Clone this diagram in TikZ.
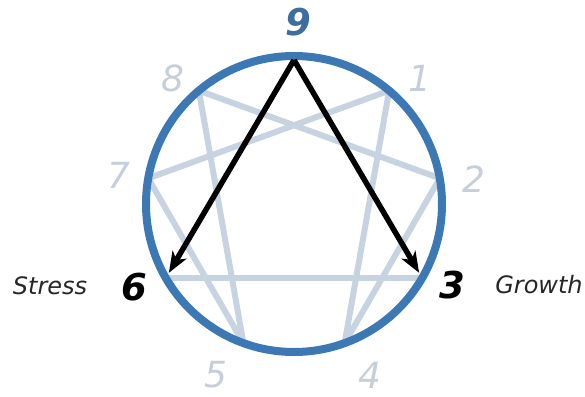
\documentclass[tikz,border=0pt]{standalone}
\usepackage{fontspec}
\setsansfont{DejaVu Sans}
\usetikzlibrary{arrows.meta}
\definecolor{ring}{HTML}{3C78B4}
\definecolor{ringnum}{HTML}{3D6E9F}
\definecolor{faint}{HTML}{C8D3E1}
\definecolor{faintnum}{HTML}{C6CEDA}
\begin{document}
\begin{tikzpicture}[x=1pt,y=1pt,
  num/.style={font=\fontsize{36}{40}\selectfont\sffamily\itshape},
  bignum/.style={num,font=\fontsize{37}{40}\selectfont\sffamily\itshape\bfseries},
  word/.style={font=\fontsize{24}{28}\selectfont\sffamily\itshape,text=black!85},
  hexad/.style={faint,line width=6pt,line join=round},
  flow/.style={-{Stealth[length=21pt,width=16pt,inset=6pt]},line width=5.5pt,shorten >=6pt}]
\def\R{148}
\useasboundingbox (-294,-192) rectangle (291,204);
\foreach \n in {1,...,9} \coordinate (p\n) at ({90-40*\n}:\R);
\coordinate (apex) at (0,\R-4);
\draw[hexad] (p1) -- (p4) -- (p2) -- (p8) -- (p5) -- (p7) -- cycle;
\draw[hexad] (p6) -- (p3);
\draw[ring,line width=8pt] (0,0) circle (\R);
\draw[flow] (apex) -- (p6);
\draw[flow] (apex) -- (p3);
\node[bignum,text=ringnum] (l9) at (4,182) {9};
\foreach \n/\x/\y in {1/126/126,2/180/25,4/76/-171,5/-78/-171,7/-175/29,8/-121/126}
  \node[num,text=faintnum] (l\n) at (\x,\y) {\n};
\node[bignum] (l6) at (-160,-83) {6};
\node[bignum] (l3) at (158,-81) {3};
\node[word] (stress) at (-244,-82) {Stress};
\node[word] (growth) at (245,-81) {Growth};
\end{tikzpicture}
\end{document}
